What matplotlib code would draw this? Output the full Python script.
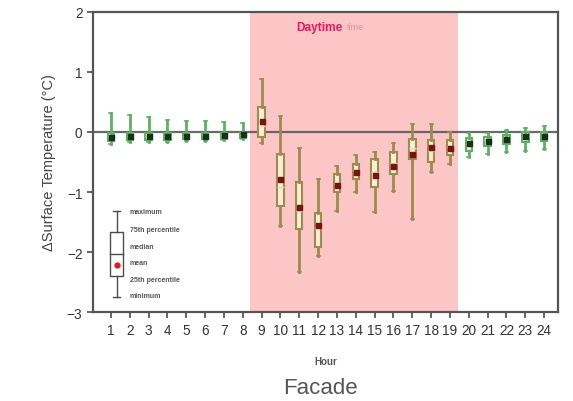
import matplotlib
matplotlib.use('Agg')
import matplotlib.pyplot as plt

plt.rcParams['font.family'] = ['Liberation Sans', 'DejaVu Sans']

# hourly box statistics (delta surface temperature, degC)
hours = list(range(1, 25))
wmax = [0.32, 0.29, 0.25, 0.20, 0.19, 0.18, 0.16, 0.15, 0.88, 0.27, -0.27, -0.78,
        -0.56, -0.39, -0.33, -0.18, 0.13, 0.13, 0.00, -0.02, -0.02, 0.04, 0.07, 0.10]
q3 = [-0.01, -0.01, -0.01, -0.01, -0.01, -0.01, -0.01, -0.01, 0.42, -0.37, -0.83, -1.35,
      -0.70, -0.53, -0.45, -0.34, -0.12, -0.14, -0.14, -0.10, -0.08, -0.05, 0.00, 0.00]
median = [-0.06, -0.06, -0.06, -0.06, -0.06, -0.05, -0.05, -0.05, 0.10, -0.92, -1.32, -1.60,
          -0.86, -0.64, -0.66, -0.52, -0.26, -0.31, -0.25, -0.20, -0.14, -0.10, -0.06, -0.06]
mean = [-0.08, -0.07, -0.07, -0.06, -0.06, -0.06, -0.05, -0.04, 0.19, -0.78, -1.25, -1.55,
        -0.88, -0.66, -0.71, -0.56, -0.37, -0.25, -0.27, -0.18, -0.15, -0.11, -0.07, -0.07]
q1 = [-0.15, -0.14, -0.14, -0.13, -0.12, -0.12, -0.11, -0.10, -0.08, -1.23, -1.62, -1.92,
      -1.00, -0.78, -0.92, -0.70, -0.45, -0.50, -0.39, -0.31, -0.23, -0.20, -0.16, -0.15]
wmin = [-0.20, -0.17, -0.17, -0.16, -0.15, -0.15, -0.14, -0.12, -0.18, -1.56, -2.33, -2.06,
        -1.31, -1.00, -1.34, -0.98, -1.45, -0.67, -0.53, -0.42, -0.37, -0.33, -0.31, -0.28]
day_start, day_end = 9, 19

GRAY = '#4d4d4d'
DAY_EDGE = '#9a8c4c'
NIGHT_EDGE = '#5fb062'

fig = plt.figure(figsize=(5.73, 4.02), dpi=100)
ax = fig.add_axes([0.162, 0.221, 0.812, 0.747])

ax.axvspan(8.4, 19.45, color='#fdc6c6', lw=0, zorder=0)
ax.axhline(0, color='#5a5a5a', lw=1.6, alpha=0.9, zorder=1)

for i, h in enumerate(hours):
    day = day_start <= h <= day_end
    edge = DAY_EDGE if day else NIGHT_EDGE
    face = '#f8eed6' if day else '#e3f3e0'
    mcol = '#7a1414' if day else '#1c2e1e'
    stats = [dict(whislo=wmin[i], q1=q1[i], med=median[i], q3=q3[i], whishi=wmax[i],
                  mean=mean[i], fliers=[])]
    ax.bxp(stats, positions=[h], widths=0.34, showmeans=True, patch_artist=True,
           boxprops=dict(facecolor=face, edgecolor=edge, lw=1.5),
           whiskerprops=dict(color=edge, lw=2.0),
           capprops=dict(color=edge, lw=1.2),
           medianprops=dict(color='#e9dcb5' if day else '#bfe3bd', lw=1.0),
           meanprops=dict(marker='s', markersize=3.6, markerfacecolor=mcol,
                          markeredgecolor=mcol),
           capwidths=0.16, manage_ticks=False, zorder=3)

ax.set_xlim(0.04, 24.74)
ax.set_ylim(-3, 2)
ax.set_xticks(hours)
ax.set_xticklabels([str(h) for h in hours])
ax.set_yticks([-3, -2, -1, 0, 1, 2])
ax.tick_params(axis='both', colors=GRAY, labelcolor='#333333', labelsize=9.8,
               length=4, width=1.2, direction='out')
for s in ax.spines.values():
    s.set_color('#555555')
    s.set_linewidth(1.6)

ax.set_ylabel('ΔSurface Temperature (°C)', fontsize=10.5, color='#444444', labelpad=8)
ax.set_xlabel('Hour', fontsize=7, fontweight='bold', color='#555555', labelpad=14)
fig.text(0.56, 0.033, 'Facade', fontsize=16, color='#555555', ha='center', va='center')

ax.text(12.05, 1.75, 'Daytime', color='#e8195c', fontsize=8.6, fontweight='bold',
        ha='center', va='center')
ax.text(14.0, 1.75, 'time', color='#e8195c', alpha=0.35, fontsize=6.5,
        ha='center', va='center')

# legend key for the box plot
lx = 1.3
ax.plot([lx, lx], [-1.31, -1.67], color=GRAY, lw=1.0, zorder=4)
ax.plot([lx, lx], [-2.39, -2.75], color=GRAY, lw=1.0, zorder=4)
ax.plot([lx - 0.18, lx + 0.18], [-1.31, -1.31], color=GRAY, lw=1.0, zorder=4)
ax.plot([lx - 0.18, lx + 0.18], [-2.75, -2.75], color=GRAY, lw=1.0, zorder=4)
ax.add_patch(plt.Rectangle((lx - 0.36, -2.39), 0.72, 0.72, fill=False, ec=GRAY, lw=1.0, zorder=4))
ax.plot([lx - 0.36, lx + 0.36], [-2.03, -2.03], color=GRAY, lw=1.0, zorder=4)
ax.plot([lx], [-2.22], 'o', color='#e8141c', ms=3.5, zorder=5)
key_labels = ['maximum', '75th percentile', 'median', 'mean', '25th percentile', 'minimum']
key_y = [-1.33, -1.62, -1.90, -2.17, -2.45, -2.73]
for lab, yy in zip(key_labels, key_y):
    ax.text(2.0, yy, lab, fontsize=5, fontweight='bold', color='#555555', va='center')

fig.savefig('out.png', dpi=100)
